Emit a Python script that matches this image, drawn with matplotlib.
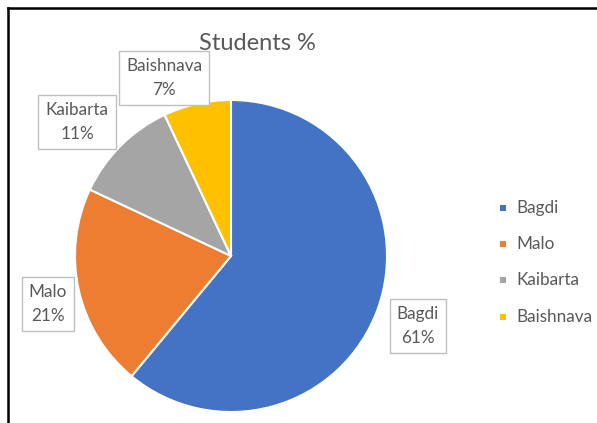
import matplotlib
matplotlib.use("Agg")
import matplotlib.pyplot as plt
from matplotlib.lines import Line2D
from matplotlib.patches import Rectangle

categories = ["Bagdi", "Malo", "Kaibarta", "Baishnava"]
values = [61, 21, 11, 7]
colors = ["#4472C4", "#ED7D31", "#A5A5A5", "#FFC000"]
title = "Students %"

W, H = 597, 423
fig = plt.figure(figsize=(W / 100, H / 100), dpi=100)
fig.patch.set_facecolor("white")
plt.rcParams['font.family'] = ['Lato', 'DejaVu Sans']

# pie axes placed by pixel geometry
cx, cy, r = 231, 256, 156
half = 170
ax = fig.add_axes([(cx - half) / W, (H - cy - half) / H, 2 * half / W, 2 * half / H])

wedges, _ = ax.pie(values, colors=colors, startangle=90, counterclock=False,
                   radius=1.0, wedgeprops=dict(edgecolor="white", linewidth=1.5))
lim = half / r
ax.set_xlim(-lim, lim)
ax.set_ylim(-lim, lim)
ax.set_aspect("equal")
ax.axis("off")

txtcol = "#595959"
# label positions in figure pixels (layout)
label_pos = [(418, 326), (48, 304), (77, 122), (164, 78)]
for (px, py), cat, v in zip(label_pos, categories, values):
    fig.text(px / W, 1 - py / H, f"{cat}\n{v}%", ha="center", va="center",
             fontsize=12.3, color=txtcol, linespacing=1.6,
             bbox=dict(boxstyle="square,pad=0.42", facecolor="white",
                       edgecolor="#BFBFBF", linewidth=1.0))

fig.text(257 / W, 1 - 44 / H, title, ha="center", va="center",
         fontsize=17, color=txtcol)

# legend
leg_y = [208, 244, 280, 317]
for y, cat, c in zip(leg_y, categories, colors):
    fig.patches.append(Rectangle(((500) / W, 1 - (y + 3) / H), 6 / W, 6 / H,
                                 transform=fig.transFigure, facecolor=c,
                                 edgecolor="none"))
    fig.text(516 / W, 1 - y / H, cat, ha="left", va="center",
             fontsize=12.3, color=txtcol)

# frame lines (left and top)
fig.add_artist(Line2D([7.5 / W, 7.5 / W], [0, 1 - 8 / H], color="black",
                      linewidth=1.8, transform=fig.transFigure))
fig.add_artist(Line2D([7.5 / W, 1], [1 - 8 / H, 1 - 8 / H], color="black",
                      linewidth=1.8, transform=fig.transFigure))

fig.savefig("out.png", dpi=100, facecolor="white")
